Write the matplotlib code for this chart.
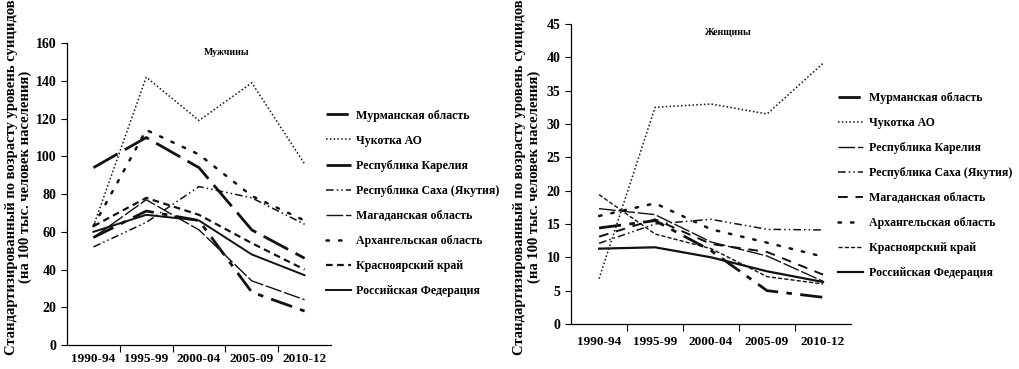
import matplotlib
matplotlib.use('Agg')
import matplotlib.pyplot as plt

plt.rcParams['font.family'] = ['Liberation Serif', 'DejaVu Serif']
plt.rcParams['font.weight'] = 'bold'

periods = ['1990-94', '1995-99', '2000-04', '2005-09', '2010-12']
regions = ['Мурманская область', 'Чукотка АО', 'Республика Карелия',
           'Республика Саха (Якутия)', 'Магаданская область',
           'Архангельская область', 'Красноярский край', 'Российская Федерация']

# Мужчины
men_murmansk = [57, 71, 66, 28, 18]
men_chukotka = [63, 142, 119, 139, 96]
men_karelia = [94, 110, 94, 61, 46]
men_sakha = [52, 65, 84, 78, 64]
men_magadan = [57, 77, 61, 34, 24]
men_arkh = [63, 114, 101, 79, 66]
men_krasn = [63, 78, 69, 54, 40]
men_rf = [60, 69, 66, 48, 37]

# Женщины
wom_murmansk = [14.4, 15.5, 11.0, 5.0, 4.0]
wom_chukotka = [6.8, 32.5, 33.0, 31.5, 39.1]
wom_karelia = [17.3, 16.4, 12.3, 10.2, 6.4]
wom_sakha = [12.1, 15.0, 15.7, 14.2, 14.1]
wom_magadan = [13.1, 15.7, 12.0, 10.8, 7.4]
wom_arkh = [16.2, 18.1, 14.2, 12.2, 10.1]
wom_krasn = [19.4, 13.5, 11.3, 7.1, 6.0]
wom_rf = [11.3, 11.5, 10.0, 7.9, 6.3]

men = [men_murmansk, men_chukotka, men_karelia, men_sakha,
       men_magadan, men_arkh, men_krasn, men_rf]
women = [wom_murmansk, wom_chukotka, wom_karelia, wom_sakha,
         wom_magadan, wom_arkh, wom_krasn, wom_rf]

col = '#111111'
styles_men = [
    dict(lw=2.0, ls=(0, (8, 3, 2, 3))),
    dict(lw=1.1, ls=(0, (1, 1.5))),
    dict(lw=2.0, ls=(0, (10, 3))),
    dict(lw=1.1, ls=(0, (5, 2, 1, 2, 1, 2))),
    dict(lw=1.0, ls=(0, (12, 2))),
    dict(lw=1.8, ls=(0, (1, 4)), dash_capstyle='round'),
    dict(lw=1.6, ls=(0, (3, 2))),
    dict(lw=1.4, ls='-'),
]
styles_wom = [
    dict(lw=2.0, ls=(0, (8, 3, 2, 3))),
    dict(lw=1.1, ls=(0, (1, 1.5))),
    dict(lw=1.0, ls=(0, (12, 2))),
    dict(lw=1.1, ls=(0, (5, 2, 1, 2, 1, 2))),
    dict(lw=1.4, ls=(0, (5, 4))),
    dict(lw=1.8, ls=(0, (1, 4)), dash_capstyle='round'),
    dict(lw=1.0, ls=(0, (3, 1.5))),
    dict(lw=1.6, ls='-'),
]

ylabel = 'Стандартизированный по возрасту уровень суицидов\n(на 100 тыс. человек населения)'

fig = plt.figure(figsize=(10.19, 3.69), dpi=100)
ax1 = fig.add_axes([0.0658, 0.065, 0.259, 0.818])
ax2 = fig.add_axes([0.5604, 0.122, 0.2748, 0.813])


def setup(ax, data, styles, ymax, ystep, title, tx, ty, legx, legy, ylx, xpad):
    x = list(range(len(periods)))
    for series, name, st in zip(data, regions, styles):
        ax.plot(x, series, color=col, label=name, **st)
    ax.set_xlim(-0.5, len(periods) - 0.5)
    ax.set_ylim(0, ymax)
    ax.set_yticks(range(0, ymax + 1, ystep))
    ax.set_xticks([i + 0.5 for i in range(len(periods) - 1)])
    ax.set_xticklabels([])
    ax.set_xticks(x, minor=True)
    ax.set_xticklabels(periods, minor=True)
    ax.tick_params(axis='x', which='major', direction='out', length=5, width=0.8)
    ax.tick_params(axis='x', which='minor', length=0, pad=xpad, labelsize=9.5)
    ax.tick_params(axis='y', direction='out', length=4, width=0.8, labelsize=10)
    for s in ['top', 'right']:
        ax.spines[s].set_visible(False)
    for s in ['left', 'bottom']:
        ax.spines[s].set_linewidth(0.9)
    ax.text(tx, ty, title, transform=fig.transFigure, fontsize=7,
            ha='center', va='center')
    ax.legend(loc='upper left', bbox_to_anchor=(legx, legy),
              bbox_transform=fig.transFigure, frameon=False, fontsize=8.6,
              handlelength=2.1, labelspacing=1.09, handletextpad=0.45)
    fig.text(ylx, 0.52, ylabel, rotation=90, ha='center', va='center',
             fontsize=10.5, linespacing=1.1)


setup(ax1, men, styles_men, 160, 20, 'Мужчины', 0.222, 0.858,
      0.309, 0.732, 0.018, 6)
setup(ax2, women, styles_wom, 45, 5, 'Женщины', 0.715, 0.912,
      0.812, 0.779, 0.517, 9)

fig.savefig('out.png', dpi=100, facecolor='white')
